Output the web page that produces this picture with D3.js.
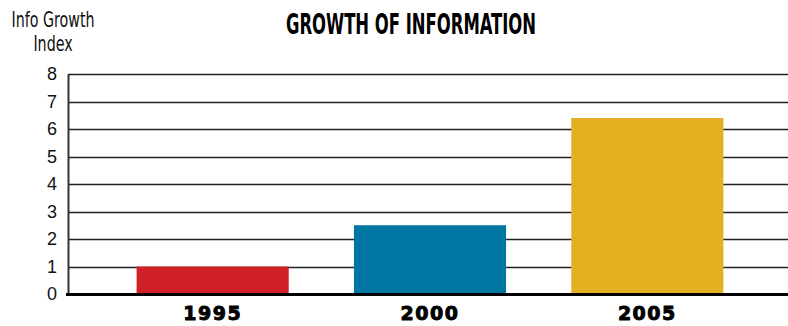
<!DOCTYPE html>
<html>
<head>
<meta charset="utf-8">
<script src="https://cdn.jsdelivr.net/npm/d3@7"></script>
<style>
  body { margin: 0; background: #fff; }
  svg { display: block; }
</style>
</head>
<body>
<div id="chart"></div>
<script>
// chart data
let years = ["1995", "2000", "2005"];
let values = [1, 2.5, 6.4];
let colors = ["#d02027", "#0077a3", "#e3b022"];
let yTicks = [0, 1, 2, 3, 4, 5, 6, 7, 8];

let width = 788, height = 326;
let margin = {top: 74, right: 0, bottom: 32, left: 68};

let svg = d3.select("#chart").append("svg")
    .attr("width", width)
    .attr("height", height);

// scales
let x = d3.scaleBand()
    .domain(years)
    .range([104, 756])
    .paddingInner(0.3)
    .paddingOuter(0.15);

let y = d3.scaleLinear()
    .domain([0, 8])
    .range([height - margin.bottom, margin.top]);

// gridlines
svg.append("g")
    .selectAll("line")
    .data(yTicks.filter(d => d > 0))
    .join("line")
    .attr("x1", margin.left)
    .attr("x2", width)
    .attr("y1", d => Math.round(y(d)) + 0.5)
    .attr("y2", d => Math.round(y(d)) + 0.5)
    .attr("stroke", "#222")
    .attr("stroke-width", 1.6);

// bars
svg.append("g")
    .selectAll("rect")
    .data(values)
    .join("rect")
    .attr("x", (d, i) => x(years[i]))
    .attr("width", x.bandwidth())
    .attr("y", d => y(d))
    .attr("height", d => y(0) - y(d))
    .attr("fill", (d, i) => colors[i]);

// y axis
let yAxis = svg.append("g")
    .attr("transform", "translate(" + margin.left + ",0)")
    .call(d3.axisLeft(y).tickValues(yTicks).tickSize(0).tickPadding(11));
yAxis.select(".domain").attr("stroke", "#333").attr("stroke-width", 2);
yAxis.selectAll("text")
    .attr("font-family", "Liberation Sans, Arial, sans-serif")
    .attr("font-size", 18)
    .attr("fill", "#111");

// baseline
svg.append("line")
    .attr("x1", margin.left - 2)
    .attr("x2", width)
    .attr("y1", y(0) + 0.5)
    .attr("y2", y(0) + 0.5)
    .attr("stroke", "#000")
    .attr("stroke-width", 3);

// x axis labels
let xAxis = svg.append("g")
    .attr("transform", "translate(0," + (y(0) + 2) + ")")
    .call(d3.axisBottom(x).tickSize(0).tickPadding(11));
xAxis.select(".domain").remove();
xAxis.selectAll("text")
    .attr("font-family", "DejaVu Sans, sans-serif")
    .attr("font-weight", "bold")
    .attr("font-size", 19)
    .attr("letter-spacing", 1.5)
    .attr("fill", "#000")
    .attr("stroke", "#000")
    .attr("stroke-width", 0.9);

// title
svg.append("text")
    .attr("x", 411)
    .attr("y", 34)
    .attr("text-anchor", "middle")
    .attr("font-family", "DejaVu Sans Condensed, sans-serif")
    .attr("font-weight", "bold")
    .attr("font-size", 29)
    .attr("transform", "translate(411,0) scale(0.63,1) translate(-411,0)")
    .text("GROWTH OF INFORMATION");

// axis title
let yTitle = svg.append("text")
    .attr("text-anchor", "middle")
    .attr("font-family", "DejaVu Sans Condensed, sans-serif")
    .attr("font-size", 22)
    .attr("fill", "#111")
    .attr("transform", "translate(53,0) scale(0.72,1) translate(-53,0)");
yTitle.append("tspan").attr("x", 53).attr("y", 27).text("Info Growth");
yTitle.append("tspan").attr("x", 53).attr("y", 51).text("Index");
</script>
</body>
</html>
